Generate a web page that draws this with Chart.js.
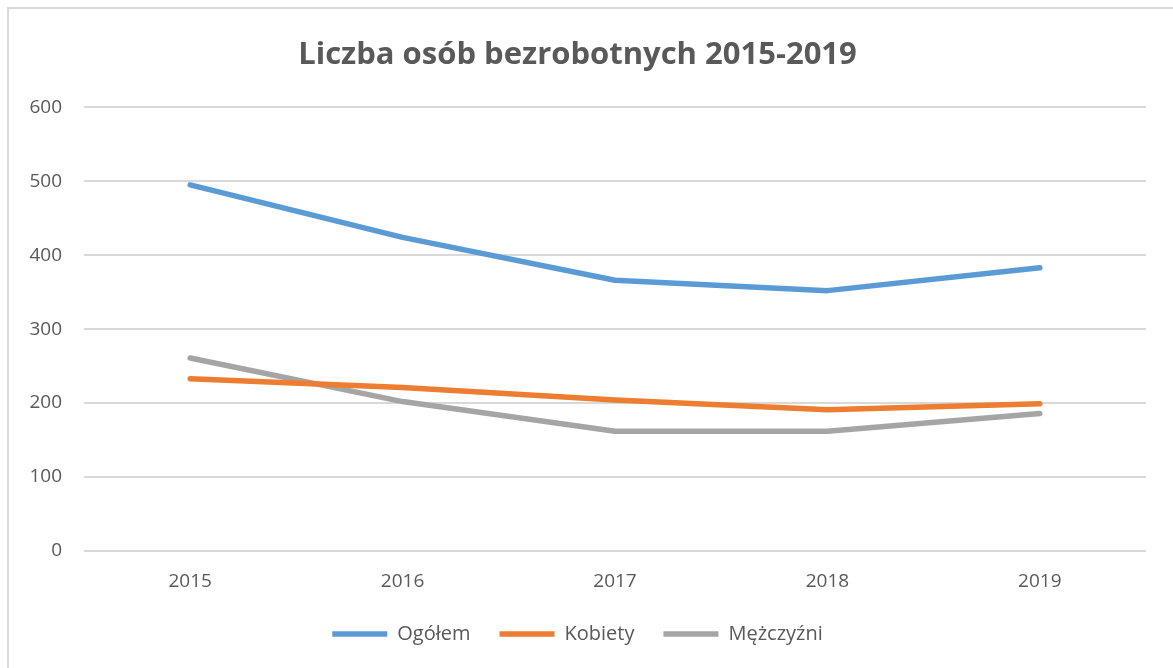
<!DOCTYPE html>
<html lang="pl">
<head>
<meta charset="utf-8">
<title>Liczba osób bezrobotnych 2015-2019</title>
<script src="https://cdn.jsdelivr.net/npm/chart.js@4.4.1/dist/chart.umd.min.js"></script>
<style>
    html, body { margin: 0; padding: 0; background: #fff; }
    body { width: 1173px; height: 668px; position: relative; overflow: hidden; }
    #wrap {
        position: absolute; left: 7px; top: 7px;
        width: 1166px; height: 661px;
        border-left: 2px solid #d9d9d9; border-top: 2px solid #d9d9d9;
    }
</style>
</head>
<body>
<div id="wrap"><canvas id="unemploymentChart"></canvas></div>
<script>
// lata i liczba osób bezrobotnych
const years = ["2015", "2016", "2017", "2018", "2019"];
const total = [495, 424, 366, 352, 383];   // Ogółem
const women = [233, 221, 204, 191, 199];   // Kobiety
const men = [261, 202, 162, 162, 186];     // Mężczyźni
const yTicks = [0, 100, 200, 300, 400, 500, 600];

const textColor = "#595959";
const gridColor = "#d9d9d9";
const font = "'Open Sans', 'DejaVu Sans', sans-serif";

function series(label, values, color) {
    return {
        label: label,
        data: values,
        borderColor: color,
        backgroundColor: color,
        borderWidth: 5.5,
        borderCapStyle: "round",
        borderJoinStyle: "round",
        pointRadius: 0,
        pointHoverRadius: 0,
        tension: 0
    };
}

let ctx = document.getElementById("unemploymentChart").getContext("2d");

let chart = new Chart(ctx, {
    type: "line",
    data: {
        labels: years,
        datasets: [
            series("Ogółem", total, "#5b9bd5"),
            series("Kobiety", women, "#ed7d31"),
            series("Mężczyźni", men, "#a5a5a5")
        ]
    },
    options: {
        responsive: true,
        maintainAspectRatio: false,
        animation: false,
        layout: { padding: { left: 0, right: 29, top: 0, bottom: 16 } },
        plugins: {
            title: {
                display: true,
                text: "Liczba osób bezrobotnych 2015-2019",
                color: textColor,
                font: { family: font, size: 31, weight: "bold" },
                padding: { top: 28, bottom: 33 }
            },
            legend: {
                position: "bottom",
                labels: {
                    color: textColor,
                    font: { family: font, size: 20 },
                    usePointStyle: true,
                    pointStyle: "line",
                    pointStyleWidth: 55,
                    boxHeight: 5,
                    padding: 29
                }
            },
            tooltip: { enabled: false }
        },
        scales: {
            x: {
                offset: true,
                grid: { display: false, drawTicks: false },
                border: { display: false },
                ticks: {
                    color: textColor,
                    font: { family: font, size: 19 },
                    padding: 19
                },
                afterFit: function (scale) { scale.height = 44; }
            },
            y: {
                min: 0,
                max: 600,
                afterBuildTicks: function (scale) {
                    scale.ticks = yTicks.map(v => ({ value: v }));
                },
                grid: { color: gridColor, lineWidth: 2, drawTicks: false },
                border: { display: false },
                ticks: {
                    color: textColor,
                    font: { family: font, size: 19 },
                    padding: 22
                },
                afterFit: function (scale) { scale.width = 75; }
            }
        }
    }
});
</script>
</body>
</html>
